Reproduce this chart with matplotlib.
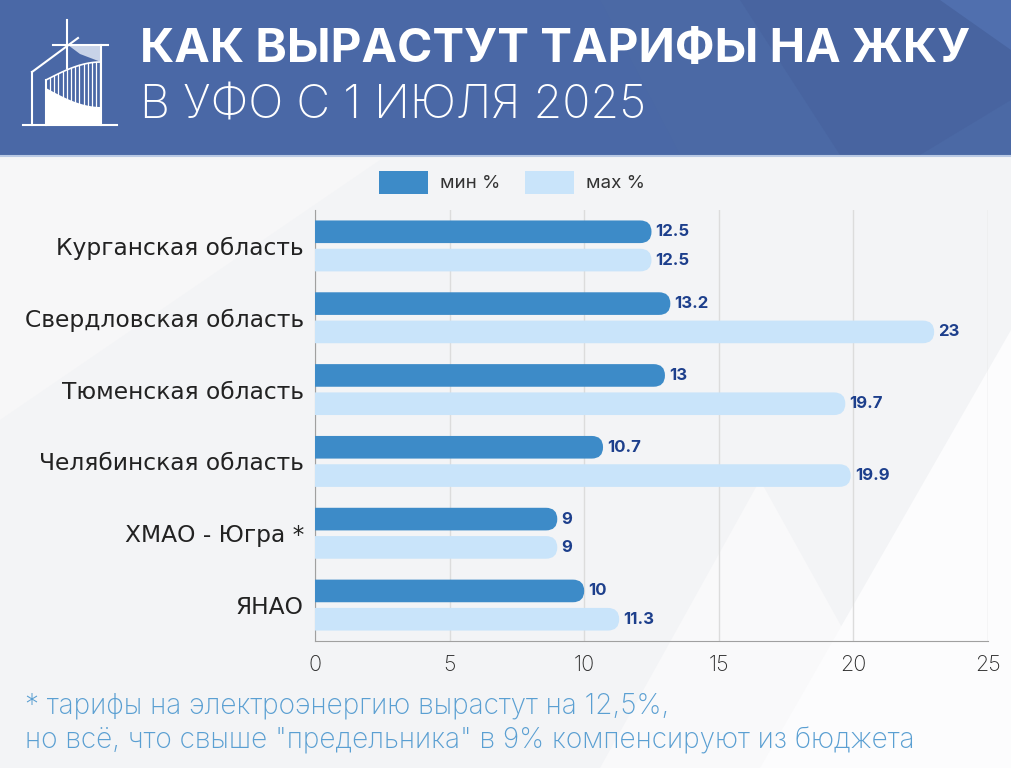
import numpy as np
import matplotlib.pyplot as plt
from matplotlib.patches import FancyBboxPatch, Rectangle, Polygon
from matplotlib.lines import Line2D

# ---- data
regions = ["Курганская область", "Свердловская область", "Тюменская область",
           "Челябинская область", "ХМАО - Югра *", "ЯНАО"]
min_pct = [12.5, 13.2, 13, 10.7, 9, 10]
max_pct = [12.5, 23, 19.7, 19.9, 9, 11.3]
min_lbl = ["12.5", "13.2", "13", "10.7", "9", "10"]
max_lbl = ["12.5", "23", "19.7", "19.9", "9", "11.3"]
xticks = [0, 5, 10, 15, 20, 25]

W, H = 1011, 768
C_MIN = "#3d8bc8"
C_MAX = "#c9e4fa"
C_LBL = "#1d3f8c"
FONT = ["Inter", "DejaVu Sans"]
FONT2 = ["DejaVu Sans"]

fig = plt.figure(figsize=(W / 100, H / 100), dpi=100)
fig.patch.set_facecolor("#f3f4f6")


def fx(x):
    return x / W


def fy(y):
    return 1 - y / H


# ---- background triangles (soft)
bg = fig.add_axes([0, 0, 1, 1], zorder=-5)
bg.set_xlim(0, W)
bg.set_ylim(H, 0)
bg.axis("off")
bg.add_patch(Polygon([(600, 768), (760, 480), (920, 768)], color="#f9f9fa", lw=0))
bg.add_patch(Polygon([(760, 768), (1011, 330), (1011, 768)], color="#fcfcfd", lw=0))
bg.add_patch(Polygon([(0, 160), (380, 160), (0, 420)], color="#f7f7f8", lw=0))

# ---- header
bg.add_patch(Rectangle((0, 0), W, 155, color="#4a68a6", lw=0))
bg.add_patch(Polygon([(600, 0), (1011, 0), (1011, 155), (680, 155)], color="#4b69a5", lw=0))
bg.add_patch(Polygon([(740, 0), (1011, 0), (1011, 100), (920, 155), (840, 155)], color="#4864a0", lw=0))
bg.add_patch(Polygon([(940, 0), (1011, 0), (1011, 50)], color="#506fae", lw=0))
bg.add_line(Line2D([0, W], [156, 156], color="#b9c9e4", lw=1.5))

# logo (simplified line drawing)
lw = 1.5
for xs, ys in [([23, 117], [125, 125]), ([66.5, 66.5], [20, 68]), ([53, 108], [45, 45]),
               ([101, 101], [45, 125]), ([32, 32], [72, 125]), ([32, 78], [72, 38])]:
    bg.add_line(Line2D(xs, ys, color="white", lw=lw))
bg.add_patch(Polygon([(68, 45), (101, 45), (101, 62), (80, 54)], color="#c8d3e8", lw=0))
t = np.linspace(0, 1, 40)
up_x = 46 + 55 * t
up_y = 80 - 18 * np.sin(t * np.pi / 2)
lo_y = 88 + 19 * np.sin(t * np.pi / 2)
bg.add_patch(Polygon(list(zip(up_x, lo_y)) + [(101, 125), (46, 125)], color="white", lw=0))
bg.add_line(Line2D(up_x, up_y, color="white", lw=1.2))
for hx in np.arange(50, 101, 4.2):
    k = (hx - 46) / 55
    bg.add_line(Line2D([hx, hx], [80 - 18 * np.sin(k * np.pi / 2), 88 + 19 * np.sin(k * np.pi / 2)],
                       color="white", lw=0.9))
bg.add_line(Line2D([46, 46], [80, 125], color="white", lw=lw))

fig.text(fx(140), fy(50), "КАК ВЫРАСТУТ ТАРИФЫ НА ЖКУ", color="white",
         fontsize=34.3, fontweight="bold", family=FONT, va="center", ha="left")
fig.text(fx(140), fy(107), "В УФО С 1 ИЮЛЯ 2025", color="white",
         fontsize=33.6, fontweight="light", family=FONT, va="center", ha="left")

# ---- legend
bg.add_patch(Rectangle((379, 171), 49, 23, color=C_MIN, lw=0))
bg.add_patch(Rectangle((525, 171), 49, 23, color=C_MAX, lw=0))
fig.text(fx(440), fy(183), "мин %", fontsize=13.5, color="#333333", family=FONT, va="center")
fig.text(fx(586), fy(183), "мах %", fontsize=13.5, color="#333333", family=FONT, va="center")

# ---- chart
ax = fig.add_axes([fx(315), fy(641), 673 / W, 431 / H])
ax.set_facecolor("none")
ax.set_xlim(0, 25)
ax.set_ylim(5.5, -0.5)

px_x = 673 / 25
px_y = 431 / 6
aspect = px_x / px_y
bh = 0.315
off = 0.197

for i in range(len(regions)):
    for vals, lbls, c, d in [(min_pct, min_lbl, C_MIN, -off), (max_pct, max_lbl, C_MAX, off)]:
        v = vals[i]
        box = FancyBboxPatch((-1, i + d - bh / 2), v + 1, bh,
                             boxstyle="round,pad=0,rounding_size=%f" % (bh / 2 / aspect),
                             mutation_aspect=aspect, facecolor=c, edgecolor="none", zorder=3)
        ax.add_patch(box)
        ax.text(v + 0.15, i + d, lbls[i], color=C_LBL, fontsize=12, fontweight="bold",
                family=FONT, va="center", ha="left", zorder=4)

ax.set_yticks(range(len(regions)))
ax.set_yticklabels(regions, fontsize=16.8, color="#222222", family=FONT2)
ax.set_xticks(xticks)
ax.set_xticklabels([str(t) for t in xticks], fontsize=15.5, color="#2b2b2b", family=FONT,
                   fontweight="light")
ax.tick_params(axis="y", length=0, pad=8)
ax.tick_params(axis="x", length=0, pad=10)
ax.grid(axis="x", color="#dcdcdc", lw=1, zorder=0)
for s in ["top", "right"]:
    ax.spines[s].set_visible(False)
ax.spines["left"].set_color("#a0a0a0")
ax.spines["bottom"].set_color("#a0a0a0")

# ---- footnote
fig.text(fx(25), fy(706), "* тарифы на электроэнергию вырастут на 12,5%,", color="#5a9fd2",
         fontsize=20.2, fontweight="light", family=FONT, va="center")
fig.text(fx(25), fy(741), "но всё, что свыше \"предельника\" в 9% компенсируют из бюджета",
         color="#5a9fd2", fontsize=20.2, fontweight="light", family=FONT, va="center")

fig.savefig("out.png", dpi=100)
